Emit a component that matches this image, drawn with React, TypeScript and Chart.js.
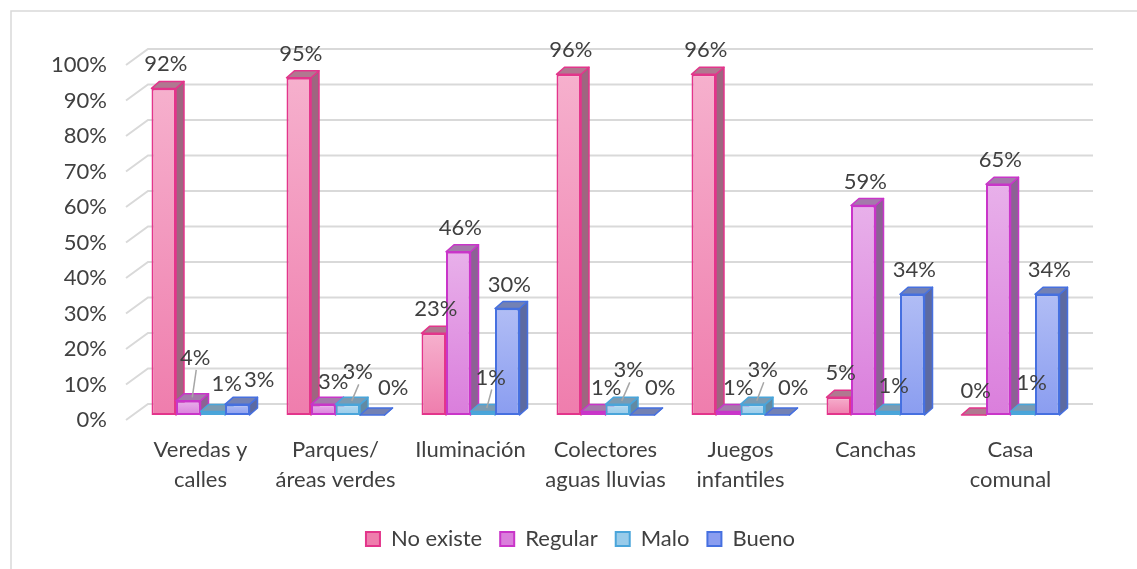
import React, { useEffect, useRef } from "react";
import { Chart, registerables } from "chart.js";

Chart.register(...registerables);

// ---------- data ----------
const categories: string[][] = [
  ["Veredas y", "calles"],
  ["Parques/", "áreas verdes"],
  ["Iluminación"],
  ["Colectores", "aguas lluvias"],
  ["Juegos", "infantiles"],
  ["Canchas"],
  ["Casa", "comunal"],
];
const seriesNames = ["No existe", "Regular", "Malo", "Bueno"];
const noExiste = [92, 95, 23, 96, 96, 5, 0];
const regular = [4, 3, 46, 1, 1, 59, 65];
const malo = [1, 3, 1, 3, 3, 1, 1];
const bueno = [3, 0, 30, 0, 0, 34, 34];
const yMin = 0;
const yMax = 100;
const yStep = 10;

// label nudges (px) to avoid overlaps, as in the reference
const noExisteNudge = [[0, 0], [0, 0], [0, 0], [0, 0], [0, 0], [0, 0], [0, 0]];
const regularNudge = [[5, -19], [8, 2], [0, 0], [11, 0], [8, 0], [0, 0], [0, 0]];
const maloNudge = [[12, -4], [8, -8], [6, -10], [9, -10], [8, -10], [4, -2], [7, -5]];
const buenoNudge = [[20, 0], [19, -3], [0, 0], [16, -3], [14, -3], [0, 0], [0, 0]];

// ---------- styles ----------
const FONT = "Lato, 'Open Sans', sans-serif";
const FS = 22;
const TEXT = "#404040";
const styles = [
  { top: "#f6b0cd", bottom: "#ef7dad", solid: "#f29abf", border: "#e3358b", side: "#9e6680", cap: "#b07890" },
  { top: "#e8b0ea", bottom: "#da7edc", solid: "#e19ae3", border: "#c935c9", side: "#8c6294", cap: "#a47aab" },
  { top: "#b4daf1", bottom: "#98cbea", solid: "#a8d3ee", border: "#4aa5da", side: "#628aa3", cap: "#7b9bb2" },
  { top: "#b1bdf5", bottom: "#8a9df0", solid: "#9fb0f3", border: "#4670e0", side: "#5c6aa2", cap: "#7381b4" },
];
const DX = 8;
const DY = -7;

function gradient(i: number) {
  const s = styles[i];
  return (ctx: any) => {
    const chart = ctx.chart;
    if (!chart.chartArea || ctx.type !== "data") return s.solid;
    const ys = chart.scales.y;
    const y0 = ys.getPixelForValue(ctx.raw as number);
    const y1 = ys.getPixelForValue(0);
    if (y1 - y0 < 1) return s.solid;
    const g = chart.ctx.createLinearGradient(0, y0, 0, y1);
    g.addColorStop(0, s.top);
    g.addColorStop(1, s.bottom);
    return g;
  };
}

function poly(ctx: CanvasRenderingContext2D, pts: number[][], fill: string, stroke: string) {
  ctx.beginPath();
  ctx.moveTo(pts[0][0], pts[0][1]);
  for (let k = 1; k < pts.length; k++) ctx.lineTo(pts[k][0], pts[k][1]);
  ctx.closePath();
  ctx.fillStyle = fill;
  ctx.fill();
  ctx.strokeStyle = stroke;
  ctx.lineWidth = 1.5;
  ctx.lineJoin = "round";
  ctx.stroke();
}

const frame = {
  id: "frame",
  beforeDraw(chart: any) {
    const ctx = chart.ctx;
    ctx.save();
    ctx.strokeStyle = "#d9d9d9";
    ctx.lineWidth = 1.5;
    ctx.strokeRect(11, 11, 3000, 3000);
    ctx.restore();
  },
};

const bars3d = {
  id: "bars3d",
  beforeDatasetsDraw(chart: any) {
    const ctx: CanvasRenderingContext2D = chart.ctx;
    const ys = chart.scales.y;
    const { left, right } = chart.chartArea;
    ctx.save();
    ctx.strokeStyle = "#d9d9d9";
    ctx.lineWidth = 2;
    ys.ticks.forEach((t: any) => {
      const py = ys.getPixelForValue(t.value);
      ctx.beginPath();
      ctx.moveTo(left - 7, py + 5);
      ctx.lineTo(left + 15, py - 11);
      ctx.lineTo(right + 15, py - 11);
      ctx.stroke();
    });
    const metas = chart.getSortedVisibleDatasetMetas();
    for (let i = 0; i < categories.length; i++) {
      for (const meta of metas) {
        const el = meta.data[i];
        if (!el) continue;
        const s = styles[meta.index];
        const { x, y, base, width } = el.getProps(["x", "y", "base", "width"], true);
        const l = x - width / 2;
        const r = x + width / 2;
        poly(ctx, [[r, y], [r + DX, y + DY], [r + DX, base + DY], [r, base]], s.side, s.border);
        poly(ctx, [[l, y], [l + DX, y + DY], [r + DX, y + DY], [r, y]], s.cap, s.border);
        el.draw(ctx, chart.chartArea);
      }
    }
    ctx.restore();
    return false;
  },
  afterDraw(chart: any) {
    const ctx: CanvasRenderingContext2D = chart.ctx;
    const nudges = [noExisteNudge, regularNudge, maloNudge, buenoNudge];
    ctx.save();
    ctx.font = `${FS}px ${FONT}`;
    ctx.textAlign = "center";
    ctx.textBaseline = "middle";
    chart.getSortedVisibleDatasetMetas().forEach((meta: any) => {
      const values = chart.data.datasets[meta.index].data as number[];
      meta.data.forEach((el: any, i: number) => {
        const { x, y } = el.getProps(["x", "y"], true);
        const [nx, ny] = nudges[meta.index][i];
        const lx = x + 2 + nx;
        const ly = y - 24 + ny;
        if (ny <= -8) {
          ctx.strokeStyle = "#a6a6a6";
          ctx.lineWidth = 1.5;
          ctx.beginPath();
          ctx.moveTo(lx + 1, ly + 12);
          ctx.lineTo(x + DX / 2, y + DY / 2);
          ctx.stroke();
        }
        ctx.fillStyle = TEXT;
        ctx.fillText(`${values[i]}%`, lx, ly);
      });
    });
    ctx.restore();
  },
};

export default function App() {
  const ref = useRef<HTMLCanvasElement | null>(null);
  useEffect(() => {
    if (!ref.current) return;
    const all = [noExiste, regular, malo, bueno];
    const chart = new Chart(ref.current, {
      type: "bar",
      data: {
        labels: categories,
        datasets: all.map((d, i) => ({
          label: seriesNames[i],
          data: d,
          backgroundColor: gradient(i),
          borderColor: styles[i].border,
          borderWidth: 2,
          borderSkipped: false,
          categoryPercentage: 0.726,
          barPercentage: 1,
        })),
      },
      options: {
        responsive: false,
        animation: false,
        devicePixelRatio: 1,
        layout: { padding: { left: 24, right: 0, top: 60, bottom: 9 } },
        plugins: {
          tooltip: { enabled: false },
          legend: {
            position: "bottom",
            labels: {
              color: TEXT,
              font: { family: FONT, size: FS },
              boxWidth: 14,
              boxHeight: 14,
              padding: 18,
            },
          },
        },
        scales: {
          x: {
            grid: { display: false },
            border: { display: false },
            ticks: {
              color: TEXT,
              font: { family: FONT, size: FS, lineHeight: 1.364 },
              padding: 12,
              maxRotation: 0,
              autoSkip: false,
            },
            afterFit: (s: any) => {
              s.height = 95;
            },
          },
          y: {
            min: yMin,
            max: yMax,
            grid: { display: false, drawTicks: false },
            border: { display: false },
            ticks: {
              stepSize: yStep,
              color: TEXT,
              font: { family: FONT, size: FS },
              padding: 26,
              labelOffset: 5,
              callback: (v: any) => `${v}%`,
            },
            afterFit: (s: any) => {
              s.width = 109;
            },
          },
          y2: {
            position: "right",
            display: true,
            grid: { display: false, drawTicks: false },
            border: { display: false },
            ticks: { display: false },
            afterFit: (s: any) => {
              s.width = 59;
            },
          },
        },
      },
      plugins: [frame, bars3d],
    } as any);
    return () => chart.destroy();
  }, []);
  return (
    <div style={{ position: "fixed", left: 0, top: 0, width: 1137, height: 569, background: "#fff" }}>
      <canvas ref={ref} width={1137} height={569} style={{ display: "block" }} />
    </div>
  );
}
